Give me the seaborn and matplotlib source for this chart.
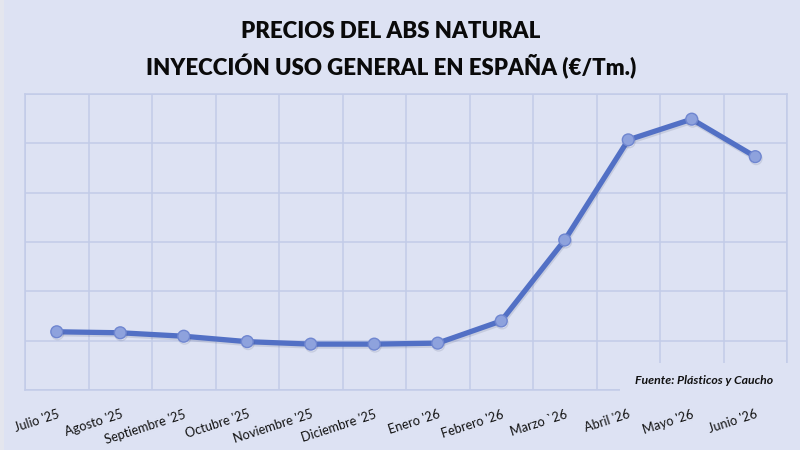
import matplotlib
matplotlib.use('Agg')
import matplotlib.pyplot as plt
import matplotlib.patheffects as pe
from matplotlib.patches import Rectangle
from matplotlib.ticker import MultipleLocator, FixedLocator
import seaborn as sns
import pandas as pd
import numpy as np

months = ["Julio '25", "Agosto '25", "Septiembre '25", "Octubre '25", "Noviembre '25",
          "Diciembre '25", "Enero '26", "Febrero '26", "Marzo `26", "Abril '26",
          "Mayo '26", "Junio '26"]
prices = [1518, 1516, 1509, 1498, 1493, 1493, 1495, 1540, 1704, 1907, 1949, 1873]

title_line1 = "PRECIOS DEL ABS NATURAL"
title_line2 = "INYECCIÓN USO GENERAL EN ESPAÑA (€/Tm.)"
source = "Fuente: Plásticos y Caucho"

bg = '#dde2f3'
gridc = '#c2cbe8'
linec = '#5270c5'

sns.set_theme(style='whitegrid')
plt.rcParams['font.family'] = ['Lato', 'DejaVu Sans']

fig = plt.figure(figsize=(8, 4.5), dpi=100, facecolor=bg)
ax = fig.add_axes([25/800, 1-390/450, 762/800, 296/450])
ax.set_facecolor(bg)

df = pd.DataFrame({'mes': months, 'precio': prices})
sns.lineplot(data=df, x='mes', y='precio', ax=ax, sort=False, color=linec,
             linewidth=3.8, marker='o', markersize=8.5,
             markerfacecolor='#8ea2dd', markeredgecolor='#6f86d0', markeredgewidth=1.0,
             zorder=4)
for ln in ax.get_lines():
    ln.set_path_effects([pe.SimpleLineShadow(offset=(0.6, -1.4), alpha=0.13, shadow_color='#30385a'),
                         pe.Normal()])

ax.set_xlim(-0.5, 11.5)
ax.set_ylim(1400, 2000)
ax.yaxis.set_major_locator(MultipleLocator(100))
ax.xaxis.set_minor_locator(FixedLocator(np.arange(-0.5, 12, 1)))
ax.grid(False)
ax.grid(which='minor', axis='x', color=gridc, lw=1.1)
ax.grid(which='major', axis='y', color=gridc, lw=1.1)
ax.tick_params(axis='y', left=False, labelleft=False)
ax.tick_params(axis='x', which='both', bottom=False, pad=7, labelsize=9.2, labelcolor='#111111')
for s in ax.spines.values():
    s.set_color(gridc)
    s.set_linewidth(1.1)
ax.set_xlabel('')
ax.set_ylabel('')
for lbl in ax.get_xticklabels():
    lbl.set_rotation(18)
    lbl.set_ha('right')
    lbl.set_rotation_mode('anchor')

fig.text(391/800, 1-31/450, title_line1, ha='center', va='center', fontsize=16,
         weight='heavy', color='#0a0a0a')
fig.text(391/800, 1-67/450, title_line2, ha='center', va='center', fontsize=16,
         weight='heavy', color='#0a0a0a')

fig.patches.append(Rectangle((620/800, 1-398/450), 175/800, 35/450, transform=fig.transFigure,
                             facecolor=bg, edgecolor='none', zorder=5))
fig.patches.append(Rectangle((0, 0), 4/800, 1, transform=fig.transFigure,
                             facecolor='#e4e6ee', edgecolor='none', zorder=5))
fig.text(704/800, 1-381/450, source, ha='center', va='center', fontsize=8.8,
         weight='bold', style='italic', color='#111111', zorder=6)

fig.savefig('out.png', dpi=100, facecolor=bg)
